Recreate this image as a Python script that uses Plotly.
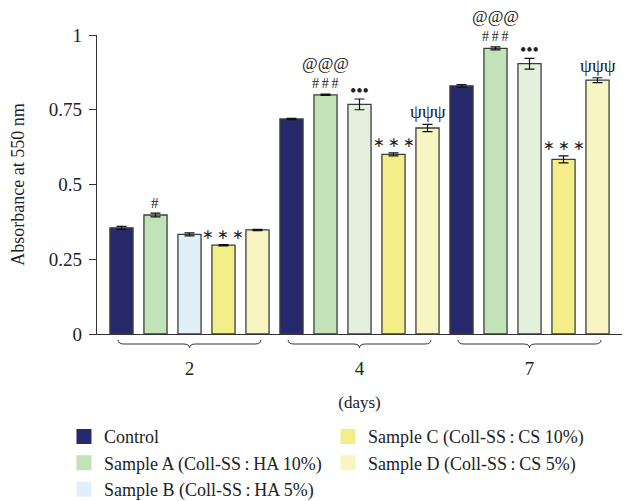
import plotly.graph_objects as go

days = ["2", "4", "7"]
series_names = [
    "Control",
    "Sample A (Coll-SS\u2009:\u2009HA 10%)",
    "Sample B (Coll-SS\u2009:\u2009HA 5%)",
    "Sample C (Coll-SS\u2009:\u2009CS 10%)",
    "Sample D (Coll-SS\u2009:\u2009CS 5%)",
]
control = [0.355, 0.719, 0.830]
control_err = [0.005, 0.002, 0.004]
sample_a = [0.398, 0.800, 0.955]
sample_a_err = [0.006, 0.002, 0.005]
sample_b = [0.333, 0.768, 0.904]
sample_b_err = [0.005, 0.018, 0.018]
sample_c = [0.297, 0.601, 0.584]
sample_c_err = [0.002, 0.005, 0.012]
sample_d = [0.348, 0.689, 0.849]
sample_d_err = [0.002, 0.012, 0.008]

HASH3 = "#\u2009#\u2009#"
DOTS = "\u2022\u2022\u2022"
STARS = "\u2217\u2009\u2217\u2009\u2217"
PSI = "\u03c8\u03c8\u03c8"
# significance marks (lower line, upper line) per series and day
sig_control = [("", ""), ("", ""), ("", "")]
sig_a = [("#", ""), (HASH3, "@@@"), (HASH3, "@@@")]
sig_b = [("", ""), (DOTS, ""), (DOTS, "")]
sig_c = [(STARS, "")] * 3
sig_d = [("", ""), (PSI, ""), (PSI, "")]

y_tickvals = [0, 0.25, 0.5, 0.75, 1]
y_ticktext = ["0", "0.25", "0.5", "0.75", "1"]

values = [control, sample_a, sample_b, sample_c, sample_d]
errors = [control_err, sample_a_err, sample_b_err, sample_c_err, sample_d_err]
sigs = [sig_control, sig_a, sig_b, sig_c, sig_d]
colors = [
    ["#28296c"] * 3,
    ["#c2e2b8"] * 3,
    ["#e0f0f8", "#e4f0dd", "#e4f0dd"],
    ["#f3ee88"] * 3,
    ["#f7f5c1"] * 3,
]
legend_colors = ["#28296c", "#c2e2b8", "#e0f0f8", "#f3ee88", "#f7f5c1"]
legend_ids = ["legend", "legend", "legend", "legend2", "legend2"]
sig_style = {  # text -> (font size, vertical shift px)
    "#": (15, 0), HASH3: (14, 1), "@@@": (17, 19), DOTS: (18, -4),
    STARS: (14, 1), PSI: (19, 0),
}

FONT = "Liberation Serif"
TXT = "#222222"
fig = go.Figure()
for i, name in enumerate(series_names):
    fig.add_trace(go.Bar(
        x=days, y=values[i], name=name, showlegend=False,
        marker=dict(color=colors[i], line=dict(color="#3d3d3d", width=1.3)),
        error_y=dict(type="data", array=errors[i], color="#111111", thickness=1.2, width=5),
    ))
for i, name in enumerate(series_names):
    fig.add_trace(go.Scatter(
        x=[None], y=[None], mode="markers", name=name, legend=legend_ids[i],
        marker=dict(symbol="square", size=15, color=legend_colors[i], line=dict(width=0)),
    ))

nser = len(series_names)
slot = 1.0 / nser
for i in range(nser):
    for j, d in enumerate(days):
        xpos = j + (i - (nser - 1) / 2) * slot
        ytop = values[i][j] + errors[i][j]
        for txt in sigs[i][j]:
            if not txt:
                continue
            size, shift = sig_style[txt]
            fig.add_annotation(
                x=xpos, y=ytop, xref="x", yref="y", text=txt, showarrow=False,
                yanchor="bottom", yshift=shift,
                font=dict(family=FONT, size=size, color=TXT),
            )

# braces under each day group
r0, r1 = -0.544, 2.544
def px(v):
    return (v - r0) / (r1 - r0)
ph = 299.0
top, mid, tip = -6 / ph, -10 / ph, -14 / ph
rx = 6 / 525.0
for j, d in enumerate(days):
    c = px(j)
    L = px(j - 0.42)
    R = px(j + 0.42)
    path = (f"M{L},{top} Q{L},{mid} {L+rx},{mid} L{c-rx},{mid} Q{c},{mid} {c},{tip} "
            f"Q{c},{mid} {c+rx},{mid} L{R-rx},{mid} Q{R},{mid} {R},{top}")
    fig.add_shape(type="path", path=path, xref="paper", yref="paper",
                  line=dict(color="#333333", width=1))

legend_common = dict(
    orientation="h", xref="container", yref="container", entrywidth=224,
    xanchor="left", yanchor="top", font=dict(family=FONT, size=18, color=TXT),
    itemsizing="trace", traceorder="normal", bgcolor="rgba(0,0,0,0)",
)
fig.update_layout(
    width=629, height=493,
    margin=dict(l=89, r=15, t=27, b=167),
    paper_bgcolor="white", plot_bgcolor="white",
    barmode="group", bargap=0, bargroupgap=0.32,
    font=dict(family=FONT, size=18, color=TXT),
    showlegend=True,
    legend=dict(x=0.089, y=0.168, **legend_common),
    legend2=dict(x=0.5087, y=0.168, **legend_common),
    xaxis=dict(
        type="category", range=[r0, r1], showline=True, linecolor="#333333", linewidth=1.3,
        ticks="", showgrid=False, zeroline=False, ticklabelstandoff=17,
        tickfont=dict(family=FONT, size=19),
        title=dict(text="(days)", standoff=18, font=dict(family=FONT, size=17)),
        automargin=False,
    ),
    yaxis=dict(
        range=[0, 1], tickvals=y_tickvals, ticktext=y_ticktext,
        showline=True, linecolor="#333333", linewidth=1.3,
        ticks="outside", ticklen=7, tickcolor="#333333", showgrid=False, zeroline=False,
        tickfont=dict(family=FONT, size=19), ticklabelstandoff=3,
        title=dict(text="Absorbance at 550 nm", standoff=19, font=dict(family=FONT, size=18)),
        automargin=False,
    ),
)
fig.write_html("out.html")
